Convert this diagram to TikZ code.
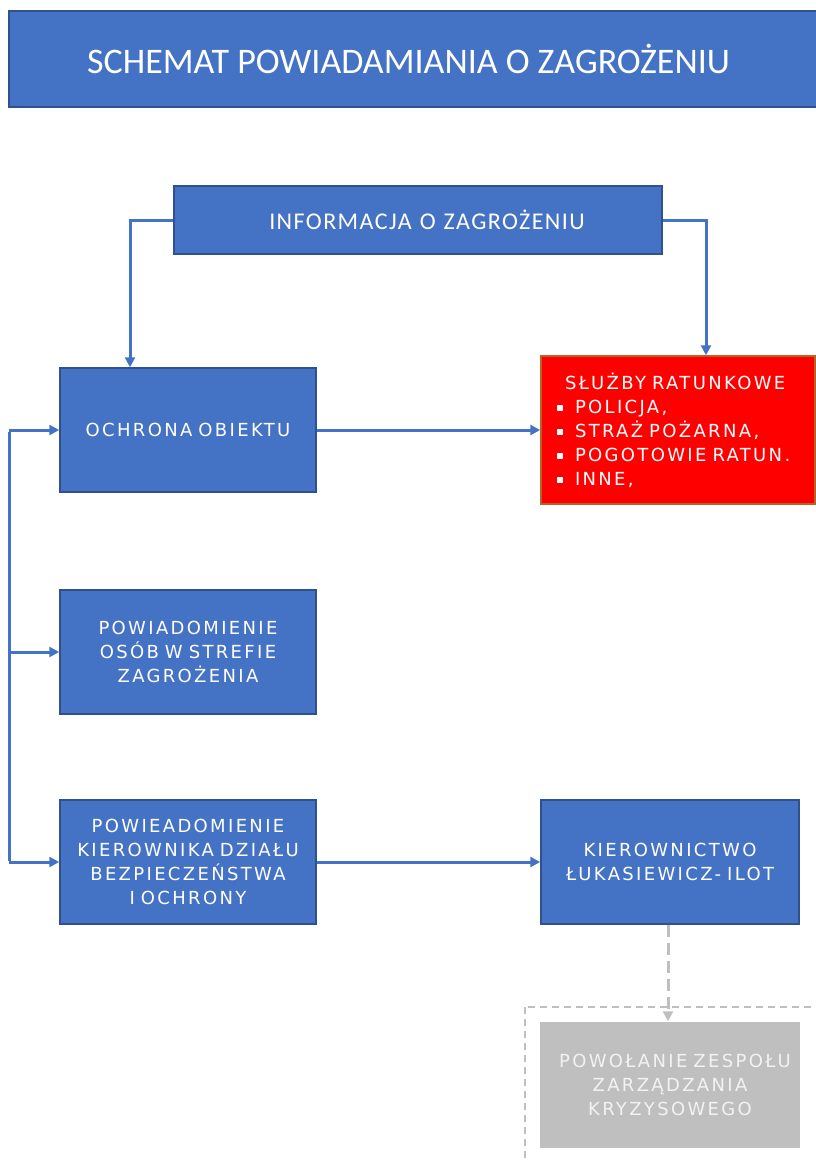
\documentclass[tikz,border=0pt]{standalone}
\usepackage{fontspec}
\setmainfont[LetterSpace=13, WordSpace=2.2]{DejaVuSans.ttf}
\newfontfamily\titlefont{Carlito}
\newfontfamily\infofont[LetterSpace=6, WordSpace=1.4]{Carlito}
\usetikzlibrary{arrows.meta}

\definecolor{boxblue}{HTML}{4472C4}
\definecolor{boxline}{HTML}{2F528F}
\definecolor{alarmred}{HTML}{FF0000}
\definecolor{alarmline}{HTML}{B4642A}
\definecolor{crisisgray}{HTML}{BFBFBF}
\definecolor{crisistext}{HTML}{F2F2F2}

\newcommand{\bul}{\rule[2pt]{6pt}{6pt}\hspace{12pt}}

\tikzset{
  box/.style={draw=boxline, fill=boxblue, line width=1.5pt, text=white,
    minimum width=256pt, minimum height=124pt, inner sep=0pt,
    text width=256pt, align=center, font=\fontsize{18}{24}\selectfont},
  arr/.style={draw=boxblue, line width=3pt, -{Triangle[length=10pt,width=10pt]}},
}

\begin{document}
\begin{tikzpicture}[x=1pt, y=-1pt]
\useasboundingbox (0,0) rectangle (815,1160);

% naglowek
\node[draw=boxline, fill=boxblue, line width=1.5pt, text=white, inner sep=0pt,
      minimum width=811pt, minimum height=96pt,
      font=\titlefont\fontsize{36}{40}\selectfont] (title) at (414.5,59) {SCHEMAT POWIADAMIANIA O ZAGROŻENIU\hspace*{12pt}};
\node[box, minimum width=488pt, text width=488pt, minimum height=68pt,
      font=\infofont\fontsize{24}{24}\selectfont] (info) at (418,220) {\hspace*{18pt}INFORMACJA O ZAGROŻENIU};

% lewa kolumna
\node[box] (ochrona) at (188,430) {OCHRONA OBIEKTU};
\node[box] (osoby) at (188,652) {POWIADOMIENIE\\OSÓB W STREFIE\\ZAGROŻENIA};
\node[box] (kbo) at (188,862) {POWIEADOMIENIE\\KIEROWNIKA DZIAŁU\\BEZPIECZEŃSTWA\\I OCHRONY};

% prawa kolumna
\node[box, draw=alarmline, fill=alarmred, minimum width=274pt, minimum height=148pt,
      text width=242pt, align=left] (sluzby) at (678,430)
  {\hspace*{8pt}SŁUŻBY RATUNKOWE\\\bul POLICJA,\\\bul STRAŻ POŻARNA,\\\bul POGOTOWIE RATUN.\\\bul INNE,};
\node[box, minimum width=258pt, text width=258pt] (kier) at (670,862) {KIEROWNICTWO\\ŁUKASIEWICZ- ILOT};
\node[box, draw=none, fill=crisisgray, text=crisistext, minimum width=260pt,
      text width=260pt, minimum height=126pt] (zespol) at (670,1085)
  {\hspace*{10pt}POWOŁANIE ZESPOŁU\\ZARZĄDZANIA\\KRYZYSOWEGO};
\draw[crisisgray, line width=1.5pt, dash pattern=on 7pt off 5pt] (525,1007) rectangle (830,1175);

% polaczenia
\coordinate (bus) at (9,430);
\draw[boxblue, line width=3pt] ([yshift=-1.5pt]bus) -- ([yshift=1.5pt]bus |- kbo);
\draw[arr] (bus) -- (ochrona.west);
\draw[arr] (bus |- osoby) -- (osoby.west);
\draw[arr] (bus |- kbo) -- (kbo.west);
\draw[arr] (info.west) -| ([xshift=-58pt]ochrona.north);
\draw[arr] (info.east) -| ([xshift=28pt]sluzby.north);
\draw[arr] (ochrona.east) -- (ochrona.east -| sluzby.west);
\draw[arr] (kbo.east) -- (kier.west);
\draw[crisisgray, line width=3pt, dash pattern=on 12pt off 6pt,
      -{Triangle[length=10pt,width=10pt]}] ([xshift=-2pt]kier.south) -- ([xshift=-2pt]zespol.north);
\end{tikzpicture}
\end{document}
